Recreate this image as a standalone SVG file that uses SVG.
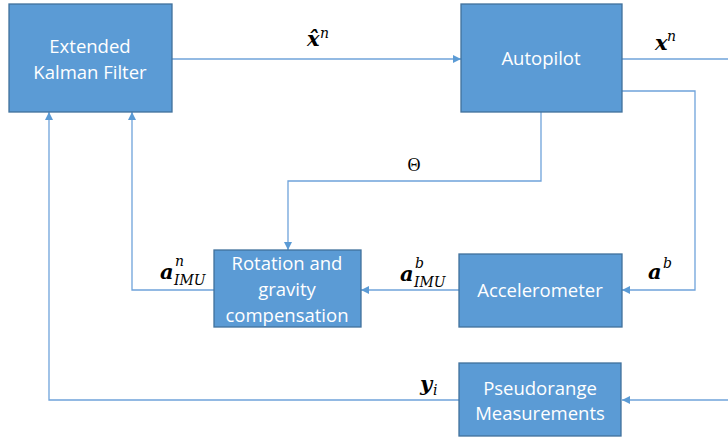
<svg xmlns="http://www.w3.org/2000/svg" width="728" height="438" viewBox="0 0 728 438">
<style>
.box{fill:#5B9BD5;stroke:#41719C;stroke-width:1.3}
.bt{font-family:"Open Sans","Liberation Sans",sans-serif;font-size:18.5px;fill:#fff;text-anchor:middle}
.ln{fill:none;stroke:#6FA3DA;stroke-width:1.3}
.m{font-family:"DejaVu Serif","Liberation Serif",serif;font-style:italic;fill:#000}
.mb{font-weight:bold;font-size:21px}
.ms{font-size:14px}
</style>
<defs>
<marker id="ah" viewBox="0 0 10 10" refX="10" refY="5" markerWidth="8" markerHeight="8" markerUnits="userSpaceOnUse" orient="auto">
<path d="M0,0 L10,5 L0,10 z" fill="#5B9BD5"/>
</marker>
</defs>
<rect width="728" height="438" fill="#fff"/>
<g id="connectors">
<path class="ln" d="M172,59 H461" marker-end="url(#ah)"/>
<path class="ln" d="M622,59 H728"/>
<path class="ln" d="M622,91 H695 V290 H622" marker-end="url(#ah)"/>
<path class="ln" d="M541,112 V181 H288 V250" marker-end="url(#ah)"/>
<path class="ln" d="M459,290 H361" marker-end="url(#ah)"/>
<path class="ln" d="M214,290 H132 V112" marker-end="url(#ah)"/>
<path class="ln" d="M459,400 H49 V112" marker-end="url(#ah)"/>
<path class="ln" d="M728,400 H622" marker-end="url(#ah)"/>
</g>
<g id="ekf">
<rect class="box" x="9" y="4" width="163" height="108"/>
<text class="bt" x="90" y="53">Extended</text>
<text class="bt" x="90" y="79">Kalman Filter</text>
</g>
<g id="autopilot">
<rect class="box" x="461" y="4" width="161" height="108"/>
<text class="bt" x="541" y="65">Autopilot</text>
</g>
<g id="rotation">
<rect class="box" x="214" y="250" width="147" height="77"/>
<text class="bt" x="287" y="270">Rotation and</text>
<text class="bt" x="287" y="296">gravity</text>
<text class="bt" x="287" y="322">compensation</text>
</g>
<g id="accelerometer">
<rect class="box" x="459" y="254" width="163" height="73"/>
<text class="bt" x="540" y="297">Accelerometer</text>
</g>
<g id="pseudorange">
<rect class="box" x="459" y="363" width="162" height="73"/>
<text class="bt" x="540" y="395">Pseudorange</text>
<text class="bt" x="540" y="420">Measurements</text>
</g>
<g id="labels">
<text class="m mb" x="307" y="46">x̂</text>
<text class="m ms" x="320" y="38">n</text>
<text class="m mb" x="655" y="50">x</text>
<text class="m ms" x="667" y="41">n</text>
<text x="414" y="171" font-family="'Liberation Serif',serif" font-size="18" text-anchor="middle">Θ</text>
<text class="m mb" x="160" y="279">a</text>
<text class="m ms" x="175" y="266">n</text>
<text class="m ms" x="174" y="285">IMU</text>
<text class="m mb" x="400" y="281">a</text>
<text class="m ms" x="415" y="268">b</text>
<text class="m ms" x="414" y="287">IMU</text>
<text class="m mb" x="648" y="279">a</text>
<text class="m ms" x="663" y="268">b</text>
<text class="m mb" x="420" y="391">y</text>
<text class="m ms" x="433" y="395">i</text>
</g>
</svg>
